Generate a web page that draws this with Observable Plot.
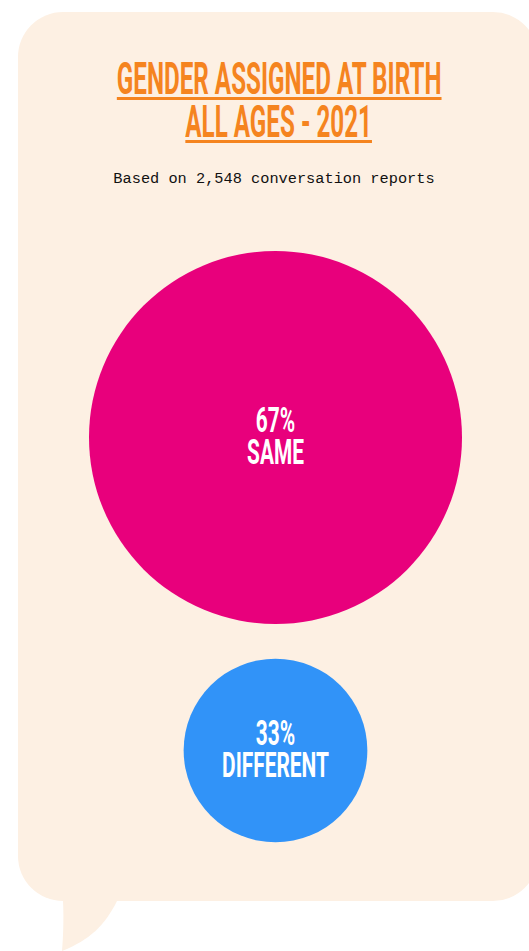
<!DOCTYPE html>
<html>
<head>
<meta charset="utf-8">
<script src="https://cdn.jsdelivr.net/npm/d3@7"></script>
<script src="https://cdn.jsdelivr.net/npm/@observablehq/plot@0.6"></script>
<style>
  html, body { margin: 0; padding: 0; background: #ffffff; }
  #wrap { position: relative; width: 529px; height: 951px; overflow: hidden; }
  #bubble { position: absolute; left: 0; top: 0; }
  .title { position: absolute; left: -221px; width: 1000px; text-align: center; color: #F5841F;
           font-family: Roboto, sans-serif; font-weight: 700; font-size: 44px; line-height: 43px; }
  .title span { display: inline-block; transform: scaleX(0.55); transform-origin: center;
                text-decoration: underline; text-decoration-thickness: 3px; text-underline-offset: 3px; white-space: nowrap; }
  #subtitle { position: absolute; left: 0; top: 169px; width: 548px; text-align: center;
              font-family: "Liberation Mono", "DejaVu Sans Mono", monospace; font-size: 15.3px; line-height: 20px; color: #111; }
  #chart { position: absolute; left: 0; top: 200px; }
</style>
</head>
<body>
<div id="wrap">
  <svg id="bubble" width="529" height="951">
    <path d="M63,901 C64,920 63,940 62,951 C90,940 105,925 117,901 Z" fill="#FDF0E3"/>
    <rect x="18" y="12" width="520" height="889" rx="45" ry="45" fill="#FDF0E3"/>
  </svg>
  <div class="title" style="top:58px"><span id="t1"></span></div>
  <div class="title" style="top:101px"><span id="t2"></span></div>
  <div id="subtitle"></div>
  <div id="chart"></div>
</div>
<script>
const titleLines = ["GENDER ASSIGNED AT BIRTH", "ALL AGES - 2021"];
const subtitle = "Based on 2,548 conversation reports";
const categories = ["SAME", "DIFFERENT"];
const percents = [67, 33];
const colors = ["#E8007C", "#3193F8"];

document.getElementById("t1").textContent = titleLines[0];
document.getElementById("t2").textContent = titleLines[1];
document.getElementById("subtitle").textContent = subtitle;

const data = categories.map((c, i) => ({label: c, pct: percents[i], color: colors[i]}));

const chart = Plot.plot({
  width: 529,
  height: 700,
  marginLeft: 21,
  marginRight: 0,
  marginTop: 0,
  marginBottom: 0,
  style: {background: "transparent"},
  x: {axis: null},
  y: {type: "point", domain: categories, range: [237, 550], padding: 0, axis: null},
  r: {type: "linear", domain: [0, 67], range: [0, 186.5]},
  marks: [
    Plot.dot(data, {y: "label", r: "pct", fill: "color", stroke: null}),
    Plot.text(data, {
      y: "label",
      text: d => `${d.pct}%\n${d.label}`,
      fill: "white",
      fontFamily: "Roboto, sans-serif",
      fontWeight: 700,
      fontSize: 36,
      lineHeight: 0.9,
      className: "clabel"
    })
  ]
});
document.getElementById("chart").appendChild(chart);
// condense circle labels horizontally
chart.querySelectorAll(".clabel text").forEach(t => {
  const tr = t.getAttribute("transform") || "";
  t.setAttribute("transform", tr + " scale(0.58,1)");
});
</script>
</body>
</html>
